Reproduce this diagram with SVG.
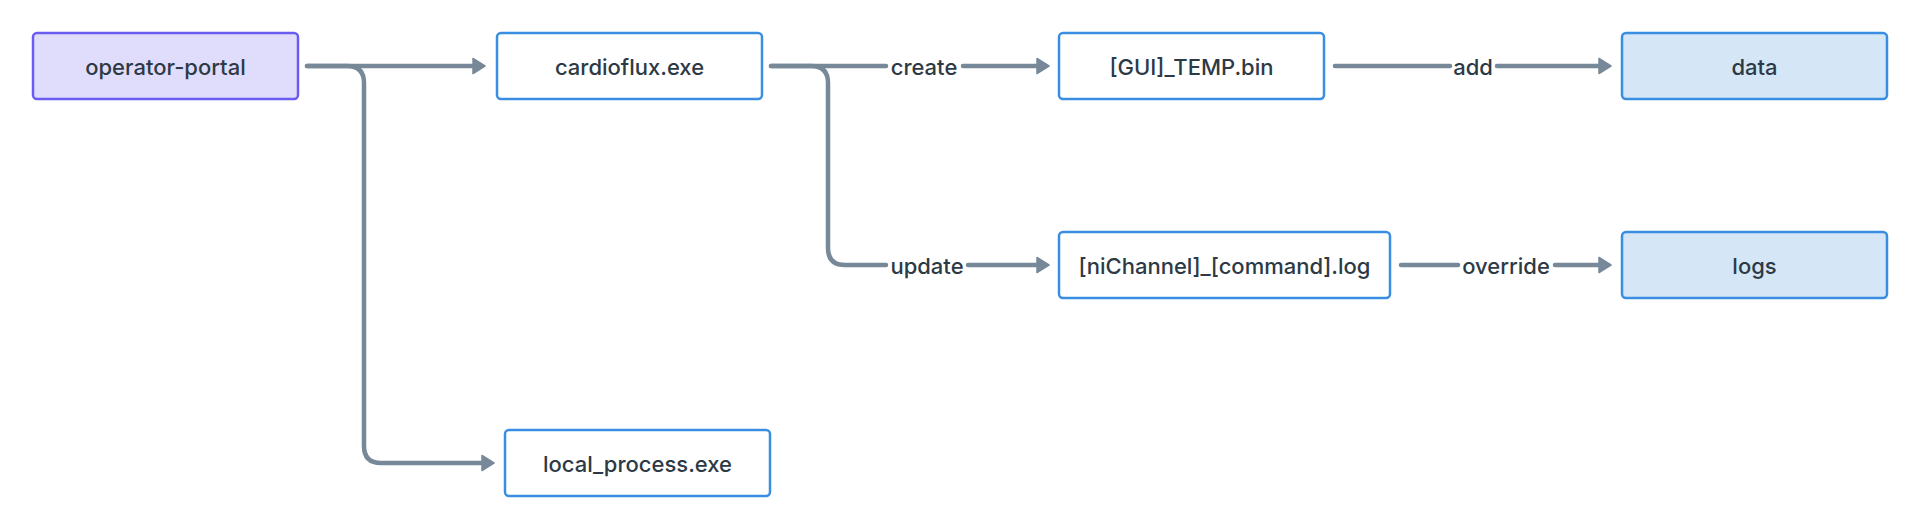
<svg xmlns="http://www.w3.org/2000/svg" width="1920" height="530" viewBox="0 0 1920 530">
<style>
.node rect{stroke-width:2.5}
.proc rect{fill:#ffffff;stroke:#3a8ee2}
.store rect{fill:#d5e6f7;stroke:#3a8ee2}
.actor rect{fill:#e0ddfc;stroke:#6a5cf0}
text{font-family:Inter,"Liberation Sans",sans-serif;font-size:22px;font-weight:500;fill:#2d3a46;text-anchor:middle}
.edge{fill:none;stroke:#778899;stroke-width:4.5;stroke-linecap:round;stroke-linejoin:round}
</style>
<defs>
<marker id="arrow" viewBox="0 0 14 18" refX="1" refY="9" markerWidth="14" markerHeight="18" markerUnits="userSpaceOnUse" orient="auto">
<path d="M1,1.5 L13,9 L1,16.5 Z" fill="#778899" stroke="#778899" stroke-width="1.5" stroke-linejoin="round"/>
</marker>
</defs>
<rect width="1920" height="530" fill="#ffffff"/>
<g id="connectors">
<path class="edge" d="M307,66 H473" marker-end="url(#arrow)"/>
<path class="edge" d="M307,66 H347 Q364,66 364,83 V446 Q364,463 381,463 H482" marker-end="url(#arrow)"/>
<path class="edge" d="M771,66 H886"/>
<path class="edge" d="M963,66 H1037" marker-end="url(#arrow)"/>
<text x="924" y="75">create</text>
<path class="edge" d="M771,66 H811 Q828,66 828,83 V248 Q828,265 845,265 H886"/>
<path class="edge" d="M968,265 H1037" marker-end="url(#arrow)"/>
<text x="927" y="274">update</text>
<path class="edge" d="M1335,66 H1450"/>
<path class="edge" d="M1497,66 H1599" marker-end="url(#arrow)"/>
<text x="1473" y="75">add</text>
<path class="edge" d="M1401,265 H1458"/>
<path class="edge" d="M1555,265 H1599" marker-end="url(#arrow)"/>
<text x="1506" y="274">override</text>
</g>
<g id="operator-portal" class="node actor">
<rect x="33" y="33" width="265" height="66" rx="4"/>
<text x="165.5" y="75">operator-portal</text>
</g>
<g id="cardioflux" class="node proc">
<rect x="497" y="33" width="265" height="66" rx="4"/>
<text x="629.5" y="75">cardioflux.exe</text>
</g>
<g id="gui-temp" class="node proc">
<rect x="1059" y="33" width="265" height="66" rx="4"/>
<text x="1191.5" y="75">[GUI]_TEMP.bin</text>
</g>
<g id="data" class="node store">
<rect x="1622" y="33" width="265" height="66" rx="4"/>
<text x="1754.5" y="75">data</text>
</g>
<g id="nichannel-log" class="node proc">
<rect x="1059" y="232" width="331" height="66" rx="4"/>
<text x="1224.5" y="274">[niChannel]_[command].log</text>
</g>
<g id="logs" class="node store">
<rect x="1622" y="232" width="265" height="66" rx="4"/>
<text x="1754.5" y="274">logs</text>
</g>
<g id="local-process" class="node proc">
<rect x="505" y="430" width="265" height="66" rx="4"/>
<text x="637.5" y="472">local_process.exe</text>
</g>
</svg>
